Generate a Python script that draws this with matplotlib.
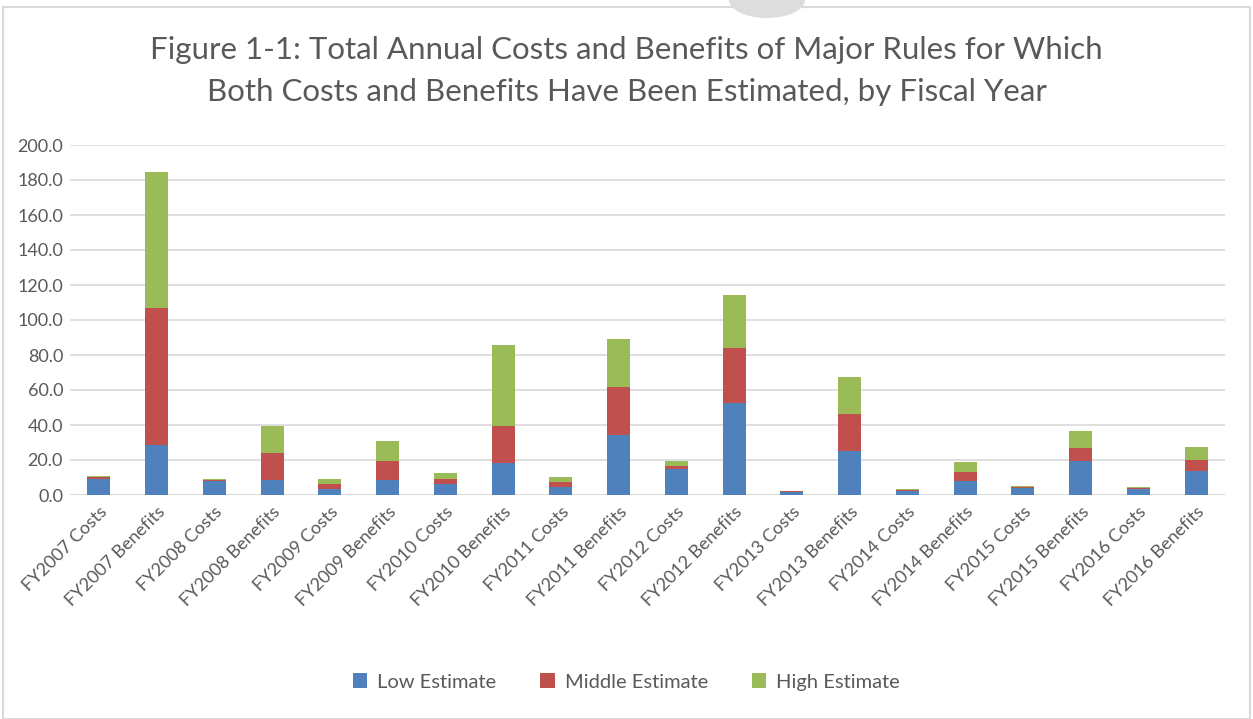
import numpy as np
import matplotlib.pyplot as plt
from matplotlib.patches import Rectangle, Ellipse

plt.rcParams['font.family'] = ['Lato', 'DejaVu Sans']

categories = ["FY2007 Costs", "FY2007 Benefits", "FY2008 Costs", "FY2008 Benefits",
              "FY2009 Costs", "FY2009 Benefits", "FY2010 Costs", "FY2010 Benefits",
              "FY2011 Costs", "FY2011 Benefits", "FY2012 Costs", "FY2012 Benefits",
              "FY2013 Costs", "FY2013 Benefits", "FY2014 Costs", "FY2014 Benefits",
              "FY2015 Costs", "FY2015 Benefits", "FY2016 Costs", "FY2016 Benefits"]

low = [9.3, 28.6, 8.0, 8.4, 3.4, 8.4, 6.1, 18.5, 4.8, 34.1,
       14.7, 52.8, 1.9, 25.3, 2.3, 8.0, 3.8, 19.4, 3.2, 13.7]
middle = [1.0, 78.0, 0.6, 15.4, 3.1, 11.2, 2.9, 21.1, 2.6, 27.6,
          2.1, 31.2, 0.3, 21.2, 0.7, 5.3, 0.6, 7.3, 0.6, 6.5]
high = [0.3, 78.0, 0.5, 15.6, 2.8, 11.1, 3.4, 46.4, 2.7, 27.7,
        2.6, 30.5, 0.1, 20.9, 0.3, 5.4, 0.7, 10.1, 0.8, 7.1]

yticks = [0, 20, 40, 60, 80, 100, 120, 140, 160, 180, 200]

c_low = "#4f81bd"
c_mid = "#c0504d"
c_high = "#9bbb59"
txt = "#595959"

fig = plt.figure(figsize=(12.53, 7.19), dpi=100)

# chart frame and the little grey tab at the top
fig.patches.append(Rectangle((3 / 1253, 0), 1247 / 1253, 1 - 7 / 719,
                             transform=fig.transFigure, fill=False,
                             edgecolor="#d9d9d9", lw=1.5))
fig.patches.append(Ellipse((767 / 1253, 1.0), 76 / 1253, 36 / 719,
                           transform=fig.transFigure, facecolor="#dddddd",
                           edgecolor="none"))

ax = fig.add_axes([70 / 1253, 1 - 495 / 719, 1155 / 1253, 350 / 719])

x = np.arange(len(categories))
low = np.array(low)
middle = np.array(middle)
high = np.array(high)
w = 0.4
ax.bar(x, low, w, color=c_low, label="Low Estimate", zorder=3)
ax.bar(x, middle, w, bottom=low, color=c_mid, label="Middle Estimate", zorder=3)
ax.bar(x, high, w, bottom=low + middle, color=c_high, label="High Estimate", zorder=3)

ax.set_xlim(-0.5, len(categories) - 0.5)
ax.set_ylim(0, 200)
ax.set_yticks(yticks)
ax.set_yticklabels(["%.1f" % v for v in yticks])
ax.yaxis.grid(True, color="#d9d9d9", lw=1.2, zorder=0)
ax.set_axisbelow(True)
for s in ax.spines.values():
    s.set_visible(False)
ax.axhline(0, color="#d9d9d9", lw=1.2, zorder=1)

ax.set_xticks(x)
ax.set_xticklabels(categories, rotation=45, ha="right", rotation_mode="anchor")
ax.tick_params(axis="both", length=0, labelsize=13, colors=txt)
ax.tick_params(axis="y", pad=5)
ax.tick_params(axis="x", pad=6)

fig.text(0.5, 1 - 50 / 719, "Figure 1-1: Total Annual Costs and Benefits of Major Rules for Which",
         ha="center", va="center", fontsize=22.5, color=txt)
fig.text(0.5, 1 - 92 / 719, "Both Costs and Benefits Have Been Estimated, by Fiscal Year",
         ha="center", va="center", fontsize=22.5, color=txt)

handles, labels = ax.get_legend_handles_labels()
fig.legend(handles, labels, loc="center", bbox_to_anchor=(0.5, 1 - 682 / 719),
           ncol=3, frameon=False, fontsize=14.5, labelcolor=txt,
           handlelength=0.7, handleheight=0.7, columnspacing=2.2, handletextpad=0.5)

fig.savefig("out.png", dpi=100)
